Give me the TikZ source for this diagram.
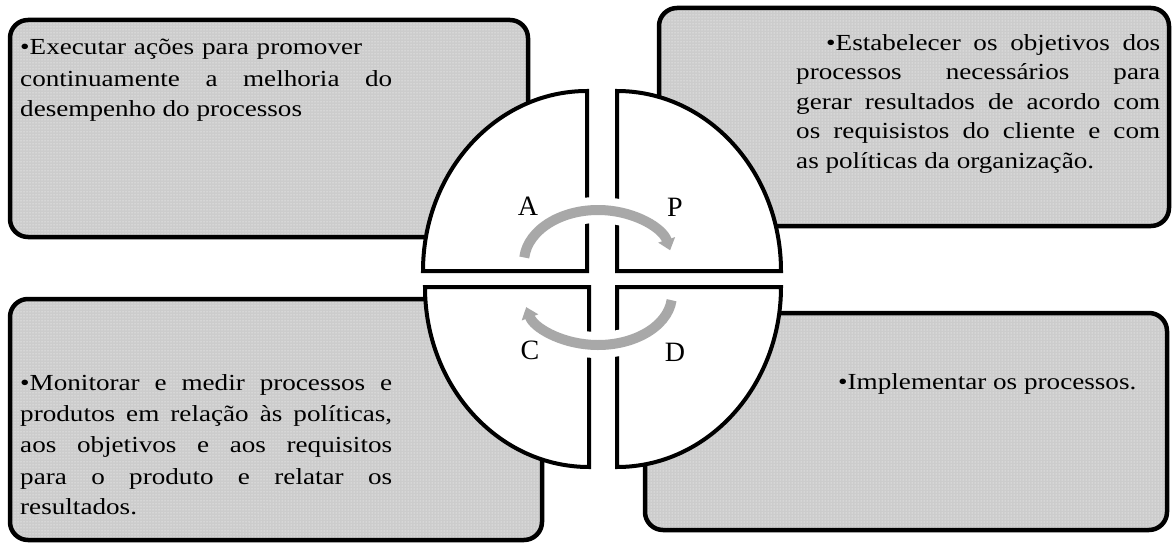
\documentclass[tikz,border=0pt]{standalone}
\usepackage{fontspec}
\setmainfont[FakeStretch=1.18]{Liberation Serif}
\newfontfamily\letterfont{Liberation Serif}
\usetikzlibrary{arrows.meta,patterns}
\definecolor{boxgray}{HTML}{CCCCCC}
\definecolor{arrowgray}{HTML}{A8A8A8}
\begin{document}
\begin{tikzpicture}[x=1pt,y=-1pt,
  infobox/.style={draw=black, line width=4.5pt, rounded corners=18pt,
    preaction={fill=boxgray},
    preaction={pattern=dots, pattern color=white},
    anchor=north west, inner sep=0pt, outer sep=0pt},
  quarter/.style={draw=black, line width=4pt, fill=white, line join=miter},
  cyclearrow/.style={arrowgray, line width=10pt,
    -{Triangle[width=17pt,length=11pt]}},
  arrowgap/.style={white, line width=26pt},
  txt/.style={anchor=base west, inner sep=0pt, font=\fontsize{23}{27}\selectfont},
  letter/.style={inner sep=0pt, font=\letterfont\fontsize{28}{28}\selectfont}
]
\useasboundingbox (0,0) rectangle (1173,543);

% four rounded text panels
\node[infobox, minimum width=518pt, minimum height=217pt] (boxA) at (10,20) {};
\node[infobox, minimum width=510pt, minimum height=218pt] (boxP) at (659,8) {};
\node[infobox, minimum width=532pt, minimum height=241pt] (boxC) at (10,299) {};
\node[infobox, minimum width=522pt, minimum height=217pt] (boxD) at (645,313) {};

% quarter pieces of the central disc
\draw[quarter] (587,271) -- ++(-164,0)
  arc[start angle=180, end angle=270, x radius=164, y radius=180] -- cycle;
\draw[quarter] (617,271) -- ++(0,-180)
  arc[start angle=270, end angle=360, x radius=164, y radius=180] -- cycle;
\draw[quarter] (617,287) -- ++(164,0)
  arc[start angle=0, end angle=90, x radius=164, y radius=180] -- cycle;
\draw[quarter] (589,287) -- ++(0,180)
  arc[start angle=90, end angle=180, x radius=164, y radius=180] -- cycle;

% cycle arrows
\coordinate (topc) at (598,262);
\coordinate (botc) at (598,295);
\draw[arrowgap] ([shift={(185:74 and 52)}]topc)
  arc[start angle=185, end angle=347, x radius=74, y radius=52];
\draw[arrowgap] ([shift={(6:74 and 50)}]botc)
  arc[start angle=6, end angle=166, x radius=74, y radius=50];
\draw[cyclearrow] ([shift={(185:74 and 52)}]topc)
  arc[start angle=185, end angle=347, x radius=74, y radius=52];
\draw[cyclearrow] ([shift={(6:74 and 50)}]botc)
  arc[start angle=6, end angle=166, x radius=74, y radius=50];

% PDCA letters
\node[letter] (lA) at (528,206) {A};
\node[letter] (lP) at (675,207) {P};
\node[letter] (lC) at (530,350) {C};
\node[letter] (lD) at (675,352) {D};

% Act
\node[txt] (a1) at (20,55) {\makebox[342pt][s]{•Executar ações para promover}};
\node[txt] (a2) at (20,86) {\makebox[372pt][s]{continuamente a melhoria do}};
\node[txt] (a3) at (20,117) {desempenho do processos};

% Plan
\node[txt] (p1) at (826,51) {\makebox[334pt][s]{•Estabelecer os objetivos dos}};
\node[txt] (p2) at (796,80) {\makebox[364pt][s]{processos necessários para}};
\node[txt] (p3) at (796,109) {\makebox[364pt][s]{gerar resultados de acordo com}};
\node[txt] (p4) at (796,138) {\makebox[364pt][s]{os requisistos do cliente e com}};
\node[txt] (p5) at (796,168) {as políticas da organização.};

% Check
\node[txt] (c1) at (20,390) {\makebox[372pt][s]{•Monitorar e medir processos e}};
\node[txt] (c2) at (20,421) {\makebox[372pt][s]{produtos em relação às políticas,}};
\node[txt] (c3) at (20,452) {\makebox[372pt][s]{aos objetivos e aos requisitos}};
\node[txt] (c4) at (20,484) {\makebox[372pt][s]{para o produto e relatar os}};
\node[txt] (c5) at (20,514) {resultados.};

% Do
\node[txt] (d1) at (838,389) {•Implementar os processos.};
\end{tikzpicture}
\end{document}
